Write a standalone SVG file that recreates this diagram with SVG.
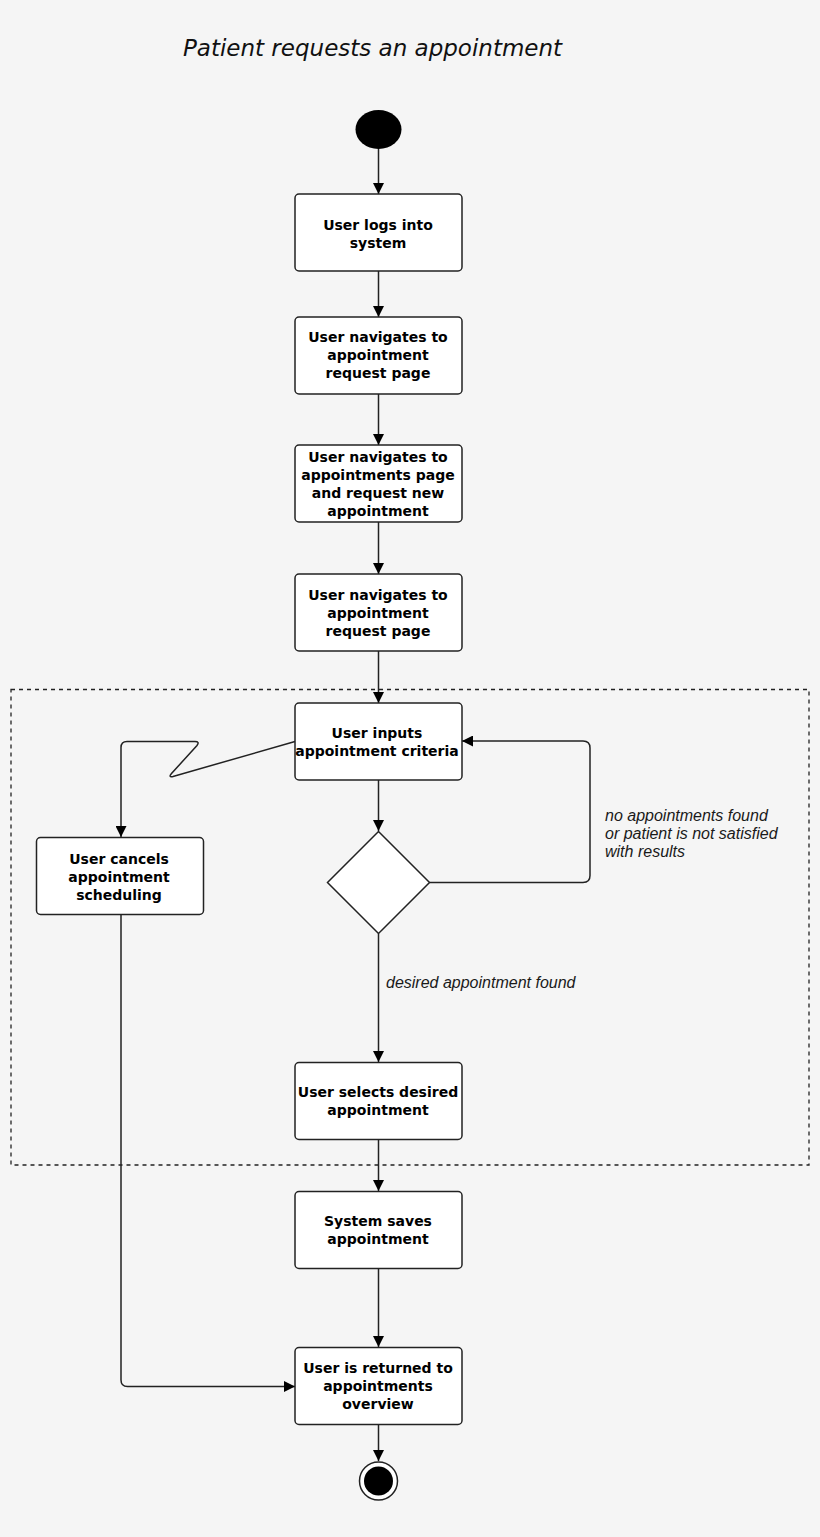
<svg xmlns="http://www.w3.org/2000/svg" width="820" height="1537" viewBox="0 0 820 1537">
<style>
.node rect{fill:#ffffff;stroke:#222222;stroke-width:1.5}
.node polygon{fill:#ffffff;stroke:#222222;stroke-width:1.5}
.lbl{font-family:"DejaVu Sans","Verdana",sans-serif;font-weight:bold;font-size:14px;fill:#000000;text-anchor:middle}
.edge{fill:none;stroke:#222222;stroke-width:1.5}
.guard{font-family:"Liberation Sans","Arial",sans-serif;font-style:italic;font-size:16px;fill:#1a1a1a}
</style>
<defs>
<marker id="arr" markerUnits="userSpaceOnUse" markerWidth="11" markerHeight="11" viewBox="0 0 10 10" refX="10" refY="5" orient="auto">
<path d="M0,0 L10,5 L0,10 z" fill="#000000"/>
</marker>
</defs>
<rect x="0" y="0" width="820" height="1537" fill="#f5f5f5"/>
<text x="372.5" y="56" font-family="'DejaVu Sans', Verdana, sans-serif" font-style="italic" font-size="23" fill="#111111" text-anchor="middle">Patient requests an appointment</text>

<g id="region">
<rect x="11" y="689.5" width="798" height="475.5" fill="none" stroke="#222222" stroke-width="1.3" stroke-dasharray="4 4"/>
</g>

<g id="connectors">
<path class="edge" d="M378.5,149 L378.5,194" marker-end="url(#arr)"/>
<path class="edge" d="M378.5,271 L378.5,317" marker-end="url(#arr)"/>
<path class="edge" d="M378.5,394 L378.5,445" marker-end="url(#arr)"/>
<path class="edge" d="M378.5,522 L378.5,574" marker-end="url(#arr)"/>
<path class="edge" d="M378.5,651 L378.5,703" marker-end="url(#arr)"/>
<path class="edge" d="M378.5,780 L378.5,831" marker-end="url(#arr)"/>
<path class="edge" d="M378.5,933.5 L378.5,1062" marker-end="url(#arr)"/>
<path class="edge" d="M378.5,1140 L378.5,1191" marker-end="url(#arr)"/>
<path class="edge" d="M378.5,1269 L378.5,1347" marker-end="url(#arr)"/>
<path class="edge" d="M378.5,1425 L378.5,1461" marker-end="url(#arr)"/>
<path class="edge" d="M295,741.5 L173,776.5 Q168,777.5 171.5,773.5 L197,745.5 Q200,741.5 195,741.5 L127,741.5 Q121,741.5 121,747.5 L121,837" marker-end="url(#arr)"/>
<path class="edge" d="M429.5,882.5 L583,882.5 Q590,882.5 590,875.5 L590,748 Q590,741 583,741 L462,741" marker-end="url(#arr)"/>
<path class="edge" d="M121,914 L121,1380 Q121,1386.5 127.5,1386.5 L295,1386.5" marker-end="url(#arr)"/>
<text class="guard" x="605" y="821">no appointments found</text>
<text class="guard" x="605" y="839">or patient is not satisfied</text>
<text class="guard" x="605" y="857">with results</text>
<text class="guard" x="386" y="988">desired appointment found</text>
</g>

<g id="start">
<ellipse cx="378.5" cy="129.5" rx="23" ry="19.5" fill="#000000"/>
</g>

<g id="n1" class="node">
<rect x="295" y="194" width="167" height="77" rx="4"/>
<text class="lbl" x="378" y="230">User logs into</text>
<text class="lbl" x="378" y="248">system</text>
</g>

<g id="n2" class="node">
<rect x="295" y="317" width="167" height="77" rx="4"/>
<text class="lbl" x="378" y="342">User navigates to</text>
<text class="lbl" x="378" y="360">appointment</text>
<text class="lbl" x="378" y="378">request page</text>
</g>

<g id="n3" class="node">
<rect x="295" y="445" width="167" height="77" rx="4"/>
<text class="lbl" x="378" y="462">User navigates to</text>
<text class="lbl" x="378" y="480">appointments page</text>
<text class="lbl" x="378" y="498">and request new</text>
<text class="lbl" x="378" y="516">appointment</text>
</g>

<g id="n4" class="node">
<rect x="295" y="574" width="167" height="77" rx="4"/>
<text class="lbl" x="378" y="600">User navigates to</text>
<text class="lbl" x="378" y="618">appointment</text>
<text class="lbl" x="378" y="636">request page</text>
</g>

<g id="n5" class="node">
<rect x="295" y="703" width="167" height="77" rx="4"/>
<text class="lbl" x="377" y="737.5">User inputs</text>
<text class="lbl" x="377" y="755.5">appointment criteria</text>
</g>

<g id="cancel" class="node">
<rect x="36.5" y="837.5" width="167" height="77" rx="4"/>
<text class="lbl" x="119" y="863.5">User cancels</text>
<text class="lbl" x="119" y="881.5">appointment</text>
<text class="lbl" x="119" y="899.5">scheduling</text>
</g>

<g id="decision" class="node">
<polygon points="378.5,831.5 429.5,882.5 378.5,933.5 327.5,882.5"/>
</g>

<g id="select" class="node">
<rect x="295" y="1062.5" width="167" height="77" rx="4"/>
<text class="lbl" x="378" y="1097">User selects desired</text>
<text class="lbl" x="378" y="1115">appointment</text>
</g>

<g id="save" class="node">
<rect x="295" y="1191.5" width="167" height="77" rx="4"/>
<text class="lbl" x="378" y="1226">System saves</text>
<text class="lbl" x="378" y="1244">appointment</text>
</g>

<g id="return" class="node">
<rect x="295" y="1347.5" width="167" height="77" rx="4"/>
<text class="lbl" x="378" y="1373">User is returned to</text>
<text class="lbl" x="378" y="1391">appointments</text>
<text class="lbl" x="378" y="1409">overview</text>
</g>

<g id="end">
<circle cx="378.5" cy="1481" r="19" fill="#ffffff" stroke="#222222" stroke-width="1.5"/>
<circle cx="378.5" cy="1481" r="14.5" fill="#000000"/>
</g>
</svg>
